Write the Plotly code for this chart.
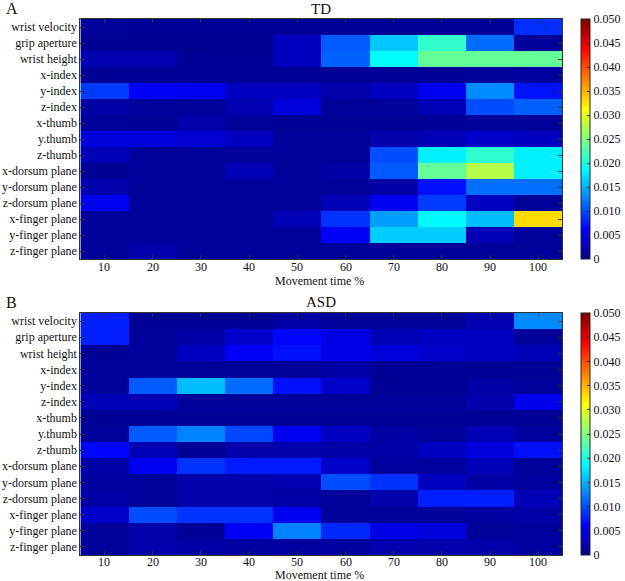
import plotly.graph_objects as go

features = ["wrist velocity", "grip aperture", "wrist height", "x-index", "y-index",
            "z-index", "x-thumb", "y.thumb", "z-thumb", "x-dorsum plane",
            "y-dorsum plane", "z-dorsum plane", "x-finger plane", "y-finger plane",
            "z-finger plane"]
time_pct = [10, 20, 30, 40, 50, 60, 70, 80, 90, 100]

td_values = [
    [0.0010, 0.0008, 0.0008, 0.0008, 0.0008, 0.0008, 0.0008, 0.0008, 0.0008, 0.0085],
    [0.0006, 0.0006, 0.0006, 0.0006, 0.0030, 0.0107, 0.0160, 0.0212, 0.0116, 0.0010],
    [0.0023, 0.0023, 0.0008, 0.0008, 0.0030, 0.0110, 0.0187, 0.0237, 0.0237, 0.0237],
    [0.0008, 0.0008, 0.0008, 0.0008, 0.0008, 0.0008, 0.0008, 0.0008, 0.0010, 0.0012],
    [0.0092, 0.0060, 0.0055, 0.0030, 0.0030, 0.0020, 0.0030, 0.0055, 0.0131, 0.0072],
    [0.0015, 0.0010, 0.0010, 0.0022, 0.0045, 0.0010, 0.0010, 0.0025, 0.0100, 0.0110],
    [0.0010, 0.0008, 0.0020, 0.0010, 0.0008, 0.0008, 0.0008, 0.0008, 0.0010, 0.0010],
    [0.0043, 0.0043, 0.0038, 0.0030, 0.0010, 0.0010, 0.0020, 0.0025, 0.0035, 0.0030],
    [0.0025, 0.0010, 0.0010, 0.0010, 0.0010, 0.0010, 0.0100, 0.0180, 0.0210, 0.0180],
    [0.0007, 0.0010, 0.0010, 0.0025, 0.0010, 0.0015, 0.0107, 0.0237, 0.0276, 0.0180],
    [0.0020, 0.0010, 0.0010, 0.0010, 0.0010, 0.0010, 0.0015, 0.0070, 0.0117, 0.0117],
    [0.0055, 0.0010, 0.0010, 0.0010, 0.0010, 0.0025, 0.0055, 0.0092, 0.0030, 0.0010],
    [0.0010, 0.0010, 0.0010, 0.0010, 0.0025, 0.0087, 0.0140, 0.0185, 0.0155, 0.0330],
    [0.0010, 0.0010, 0.0010, 0.0010, 0.0010, 0.0060, 0.0163, 0.0163, 0.0025, 0.0010],
    [0.0010, 0.0020, 0.0010, 0.0010, 0.0010, 0.0010, 0.0010, 0.0010, 0.0010, 0.0010],
]

asd_values = [
    [0.0077, 0.0008, 0.0008, 0.0008, 0.0015, 0.0010, 0.0010, 0.0010, 0.0022, 0.0131],
    [0.0077, 0.0010, 0.0015, 0.0035, 0.0065, 0.0050, 0.0025, 0.0030, 0.0030, 0.0010],
    [0.0008, 0.0010, 0.0030, 0.0060, 0.0070, 0.0050, 0.0045, 0.0035, 0.0030, 0.0025],
    [0.0010, 0.0010, 0.0010, 0.0010, 0.0010, 0.0015, 0.0008, 0.0008, 0.0008, 0.0008],
    [0.0010, 0.0107, 0.0155, 0.0116, 0.0070, 0.0035, 0.0008, 0.0008, 0.0015, 0.0010],
    [0.0025, 0.0025, 0.0010, 0.0010, 0.0010, 0.0010, 0.0010, 0.0010, 0.0020, 0.0053],
    [0.0008, 0.0008, 0.0008, 0.0008, 0.0008, 0.0008, 0.0008, 0.0008, 0.0008, 0.0008],
    [0.0010, 0.0107, 0.0126, 0.0097, 0.0055, 0.0030, 0.0015, 0.0010, 0.0025, 0.0012],
    [0.0065, 0.0025, 0.0008, 0.0020, 0.0020, 0.0015, 0.0015, 0.0030, 0.0045, 0.0070],
    [0.0015, 0.0055, 0.0087, 0.0075, 0.0075, 0.0035, 0.0013, 0.0013, 0.0025, 0.0010],
    [0.0013, 0.0010, 0.0020, 0.0020, 0.0022, 0.0100, 0.0087, 0.0030, 0.0015, 0.0012],
    [0.0015, 0.0010, 0.0020, 0.0020, 0.0015, 0.0010, 0.0020, 0.0077, 0.0077, 0.0025],
    [0.0035, 0.0100, 0.0087, 0.0087, 0.0055, 0.0010, 0.0010, 0.0010, 0.0013, 0.0015],
    [0.0010, 0.0020, 0.0008, 0.0060, 0.0126, 0.0082, 0.0050, 0.0045, 0.0010, 0.0012],
    [0.0010, 0.0020, 0.0015, 0.0013, 0.0013, 0.0013, 0.0020, 0.0020, 0.0018, 0.0013],
]

cbar_ticks = [0, 0.005, 0.010, 0.015, 0.020, 0.025, 0.030, 0.035, 0.040, 0.045, 0.050]
cbar_text = ["0", "0.005", "0.010", "0.015", "0.020", "0.025", "0.030", "0.035",
             "0.040", "0.045", "0.050"]

W, H = 625, 581
jet = [[0.0, "rgb(0,0,135)"], [0.125, "rgb(0,0,255)"], [0.375, "rgb(0,255,255)"],
       [0.625, "rgb(255,255,0)"], [0.875, "rgb(255,0,0)"], [1.0, "rgb(128,0,0)"]]
FONT = "Times New Roman"

x0, x1 = 81 / W, 567 / W
top_dom = [1 - 259 / H, 1 - 19 / H]
bot_dom = [1 - 555 / H, 1 - 313 / H]


def cbar(dom):
    return dict(
        x=586 / W, xanchor="left", y=dom[0], yanchor="bottom",
        len=dom[1] - dom[0], lenmode="fraction", thickness=9, xpad=0, ypad=0,
        outlinecolor="#222", outlinewidth=1,
        tickvals=cbar_ticks, ticktext=cbar_text, ticks="inside", ticklen=3,
        tickcolor="#222",
        tickfont=dict(family=FONT, size=12, color="#111"),
    )


fig = go.Figure()
fig.add_trace(go.Heatmap(z=td_values, x=time_pct, y=features, colorscale=jet,
                         zmin=0, zmax=0.05, xaxis="x", yaxis="y",
                         colorbar=cbar(top_dom)))
fig.add_trace(go.Heatmap(z=asd_values, x=time_pct, y=features, colorscale=jet,
                         zmin=0, zmax=0.05, xaxis="x2", yaxis="y2",
                         colorbar=cbar(bot_dom)))

ax_common = dict(showline=True, linecolor="#333", linewidth=1, mirror="ticks",
                 ticks="inside", ticklen=4, tickcolor="#333", showgrid=False,
                 zeroline=False, tickfont=dict(family=FONT, size=12, color="#111"))
x_extra = dict(range=[5, 105], tickmode="array", tickvals=time_pct, showticklabels=False)
y_extra = dict(autorange="reversed", tickmode="array", tickvals=features)

fig.update_layout(
    width=W, height=H, margin=dict(l=0, r=0, t=0, b=0),
    paper_bgcolor="white", plot_bgcolor="white",
    xaxis=dict(domain=[x0, x1], anchor="y", **x_extra, **ax_common),
    yaxis=dict(domain=top_dom, anchor="x", **y_extra, **ax_common),
    xaxis2=dict(domain=[x0, x1], anchor="y2", **x_extra, **ax_common),
    yaxis2=dict(domain=bot_dom, anchor="x2", **y_extra, **ax_common),
    font=dict(family=FONT, color="#111"),
)

# x tick labels placed through the x axes' own scale
for xref, py in (("x", 267), ("x2", 562)):
    for t in time_pct:
        fig.add_annotation(text=str(t), x=t, xref=xref, y=1 - py / H, yref="paper",
                           xanchor="center", yanchor="middle", showarrow=False,
                           font=dict(family=FONT, size=12, color="#111"))

annots = [
    ("TD", 324, 9, 15), ("A", 12, 9, 16),
    ("ASD", 324, 302, 15), ("B", 12, 302, 16),
    ("Movement time %", 322, 281, 12), ("Movement time %", 322, 575, 12),
]
for text, px, py, fs in annots:
    fig.add_annotation(text=text, x=px / W, y=1 - py / H, xref="paper", yref="paper",
                       xanchor="center", yanchor="middle", showarrow=False,
                       font=dict(family=FONT, size=fs, color="#111"))

fig.write_html("out.html",
               config={"displayModeBar": False},
               post_script="document.body.style.margin='0px';"
                           "document.body.style.overflow='hidden';")
